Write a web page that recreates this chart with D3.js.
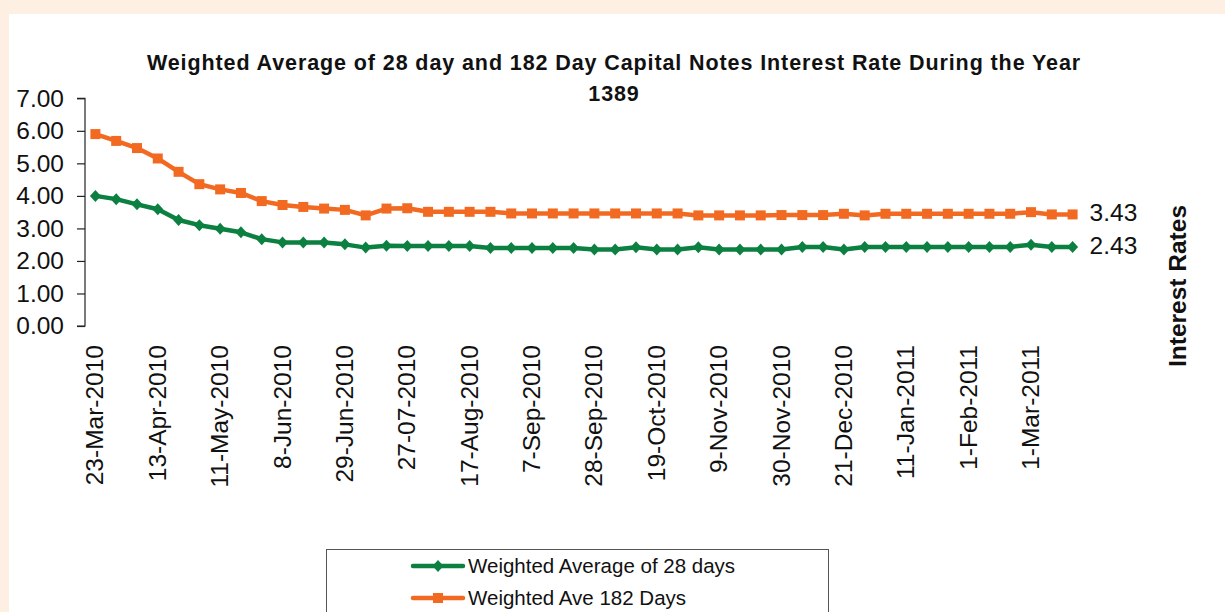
<!DOCTYPE html>
<html>
<head>
<meta charset="utf-8">
<script src="https://cdn.jsdelivr.net/npm/d3@7"></script>
<style>
	html, body { margin: 0; padding: 0; background: #fdf0e3; }
	svg { display: block; font-family: Arial, "Liberation Sans", sans-serif; }
	.axis path, .axis line { stroke: #222; stroke-width: 1.2; }
	.axis text { fill: #111; font-size: 24.5px; }
</style>
</head>
<body>
<svg class="chart" width="1225" height="612"></svg>
<script>

// Auction dates (category axis, a label on every third one)
var dates = [
	"23-Mar-2010", "30-Mar-2010", "6-Apr-2010", "13-Apr-2010", "20-Apr-2010", "27-Apr-2010",
	"11-May-2010", "18-May-2010", "25-May-2010", "8-Jun-2010", "15-Jun-2010", "22-Jun-2010",
	"29-Jun-2010", "6-Jul-2010", "13-Jul-2010", "27-07-2010", "3-Aug-2010", "10-Aug-2010",
	"17-Aug-2010", "24-Aug-2010", "31-Aug-2010", "7-Sep-2010", "14-Sep-2010", "21-Sep-2010",
	"28-Sep-2010", "5-Oct-2010", "12-Oct-2010", "19-Oct-2010", "26-Oct-2010", "2-Nov-2010",
	"9-Nov-2010", "16-Nov-2010", "23-Nov-2010", "30-Nov-2010", "7-Dec-2010", "14-Dec-2010",
	"21-Dec-2010", "28-Dec-2010", "4-Jan-2011", "11-Jan-2011", "18-Jan-2011", "25-Jan-2011",
	"1-Feb-2011", "8-Feb-2011", "15-Feb-2011", "1-Mar-2011", "8-Mar-2011", "15-Mar-2011"
];

// Weighted average of 28 day notes
var rate28 = [
	4.00, 3.90, 3.74, 3.59, 3.26, 3.10, 2.99, 2.88, 2.67, 2.57, 2.57, 2.57,
	2.51, 2.41, 2.47, 2.46, 2.46, 2.46, 2.46, 2.40, 2.40, 2.40, 2.40, 2.40,
	2.35, 2.35, 2.42, 2.35, 2.35, 2.42, 2.35, 2.35, 2.35, 2.35, 2.43, 2.43,
	2.35, 2.43, 2.43, 2.43, 2.43, 2.43, 2.43, 2.43, 2.43, 2.50, 2.43, 2.43
];

// Weighted average of 182 day notes
var rate182 = [
	5.90, 5.69, 5.47, 5.15, 4.74, 4.36, 4.20, 4.09, 3.84, 3.72, 3.66, 3.61,
	3.57, 3.40, 3.61, 3.62, 3.51, 3.51, 3.51, 3.51, 3.46, 3.46, 3.46, 3.46,
	3.46, 3.46, 3.46, 3.46, 3.46, 3.40, 3.40, 3.40, 3.40, 3.41, 3.41, 3.41,
	3.45, 3.40, 3.45, 3.45, 3.45, 3.45, 3.45, 3.45, 3.45, 3.50, 3.43, 3.43
];

var yTicks = [0, 1, 2, 3, 4, 5, 6, 7];

var seriesNames = ["Weighted Average of 28 days", "Weighted Ave 182 Days"];
var seriesColors = ["#0b8041", "#f26a22"];

var titleLines = [
	"Weighted Average of 28 day and 182 Day Capital Notes Interest Rate During the Year",
	"1389"
];


drawChart();

function drawChart() {

	var svg = d3.select(".chart");

	// white chart area on the cream page
	svg.append("rect")
		.attr("x", 9)
		.attr("y", 14)
		.attr("width", 1216)
		.attr("height", 598)
		.attr("fill", "#ffffff");

	var plot = {left: 85, top: 98.3, right: 1083, bottom: 326};

	var x = d3.scalePoint()
		.domain(dates)
		.range([plot.left, plot.right])
		.padding(0.5);

	var y = d3.scaleLinear()
		.domain([0, 7])
		.range([plot.bottom, plot.top]);

	var series = [
		{name: seriesNames[0], color: seriesColors[0], values: rate28, marker: "diamond"},
		{name: seriesNames[1], color: seriesColors[1], values: rate182, marker: "square"}
	];

	// Add the y axis
	var yAxis = d3.axisLeft(y)
		.tickValues(yTicks)
		.tickSize(8)
		.tickPadding(13)
		.tickFormat(d3.format(".2f"));

	var gy = svg.append("g")
		.attr("class", "axis")
		.attr("transform", "translate(" + plot.left + ",0)")
		.call(yAxis);
	gy.select(".domain").attr("d", "M-8," + y(7) + "H0V" + y(0) + "H-8");

	// x labels, rotated, every third category
	svg.append("g")
		.attr("class", "axis")
		.selectAll("text")
		.data(dates.filter(function(d, i) { return i % 3 == 0; }))
	  .enter().append("text")
		.attr("transform", function(d) { return "translate(" + (x(d) + 8) + "," + (plot.bottom + 19) + ") rotate(-90)"; })
		.attr("text-anchor", "end")
		.text(function(d) { return d; });

	var line = d3.line()
		.x(function(d, i) { return x(dates[i]); })
		.y(function(d) { return y(d); });

	var diamond = "M0,-6L5.5,0L0,6L-5.5,0Z";
	var square = "M-5,-5H5V5H-5Z";

	series.forEach(function(s) {
		// Draw line
		svg.append("path")
			.datum(s.values)
			.attr("fill", "none")
			.attr("stroke", s.color)
			.attr("stroke-width", 4.5)
			.attr("stroke-linejoin", "round")
			.attr("d", line);

		// Draw markers
		svg.selectAll(".m-" + s.marker)
			.data(s.values)
		  .enter().append("path")
			.attr("class", "m-" + s.marker)
			.attr("transform", function(d, i) { return "translate(" + x(dates[i]) + "," + y(d) + ")"; })
			.attr("d", s.marker == "diamond" ? diamond : square)
			.attr("fill", s.color);

		// Value label on the last point
		var last = s.values.length - 1;
		svg.append("text")
			.attr("x", x(dates[last]) + 17)
			.attr("y", y(s.values[last]) - 2)
			.attr("dy", "0.35em")
			.attr("font-size", "24.5px")
			.attr("fill", "#111")
			.text(d3.format(".2f")(s.values[last]));
	});

	// Add title
	svg.append("g")
		.selectAll("text")
		.data(titleLines)
	  .enter().append("text")
		.attr("x", 614)
		.attr("y", function(d, i) { return 70 + i * 31; })
		.attr("text-anchor", "middle")
		.attr("font-size", "21.5px")
		.attr("font-weight", "bold")
		.attr("letter-spacing", "0.9px")
		.attr("fill", "#111")
		.text(function(d) { return d; });

	// Add y axis label on the right side
	svg.append("text")
		.attr("transform", "translate(1186,286) rotate(-90)")
		.attr("text-anchor", "middle")
		.attr("font-size", "24.5px")
		.attr("font-weight", "bold")
		.attr("fill", "#111")
		.text("Interest Rates");

	// Legend
	var legend = svg.append("g");
	legend.append("rect")
		.attr("x", 326.5)
		.attr("y", 549.5)
		.attr("width", 502)
		.attr("height", 80)
		.attr("fill", "#ffffff")
		.attr("stroke", "#555")
		.attr("stroke-width", 1);

	series.forEach(function(s, i) {
		var ly = 566 + i * 32;
		legend.append("line")
			.attr("x1", 413).attr("x2", 463)
			.attr("y1", ly).attr("y2", ly)
			.attr("stroke", s.color)
			.attr("stroke-width", 4.5)
			.attr("stroke-linecap", "round");
		legend.append("path")
			.attr("transform", "translate(438," + ly + ")")
			.attr("d", s.marker == "diamond" ? diamond : square)
			.attr("fill", s.color);
		legend.append("text")
			.attr("x", 468)
			.attr("y", ly)
			.attr("dy", "0.35em")
			.attr("font-size", "20.5px")
			.attr("fill", "#111")
			.text(s.name);
	});
}
</script>
</body>
</html>
